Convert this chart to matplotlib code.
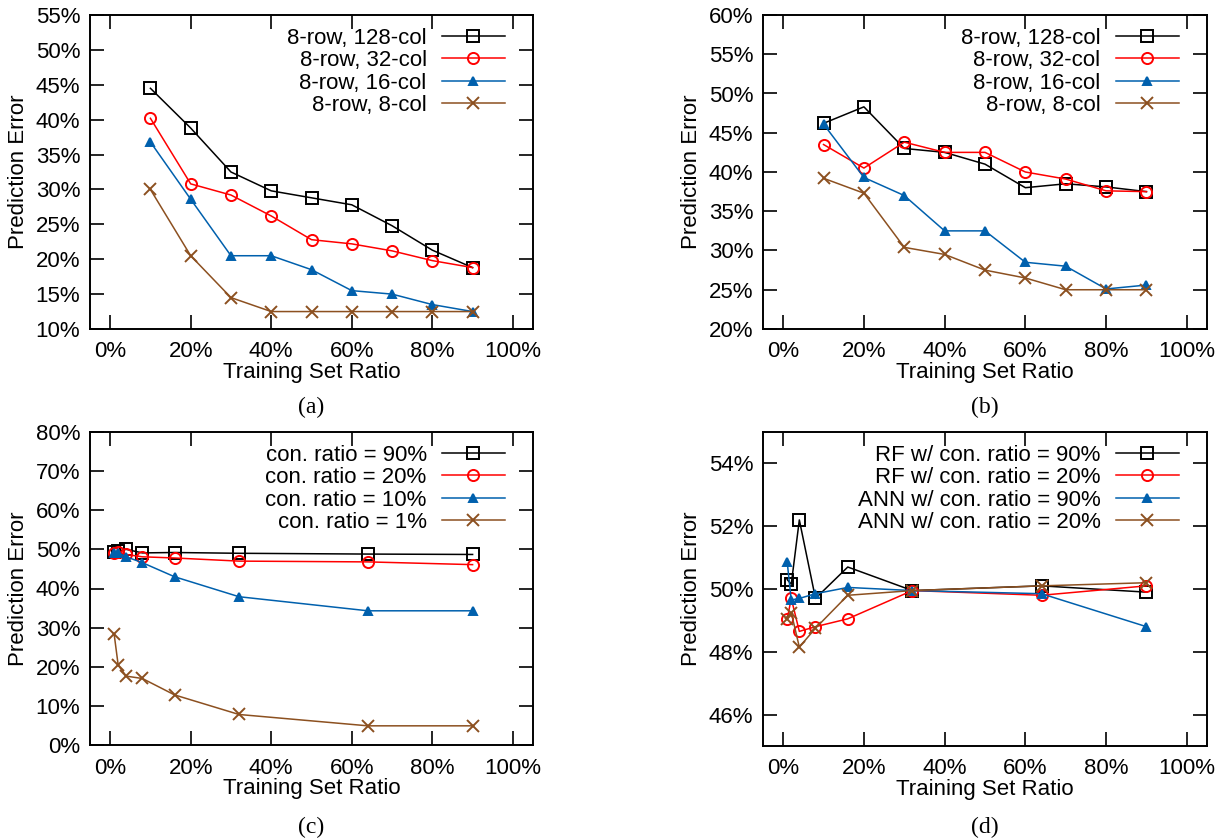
import matplotlib
matplotlib.use("Agg")
import matplotlib.pyplot as plt
from matplotlib.ticker import FuncFormatter, MultipleLocator

plt.rcParams['font.family'] = ['Liberation Sans', 'DejaVu Sans']

# (a) / (b): training set ratio 10..90%
x_ab = [10, 20, 30, 40, 50, 60, 70, 80, 90]
labels_ab = ["8-row, 128-col", "8-row, 32-col", "8-row, 16-col", "8-row, 8-col"]

a_128 = [44.5, 38.8, 32.5, 29.8, 28.8, 27.8, 24.8, 21.3, 18.8]
a_32 = [40.2, 30.8, 29.2, 26.2, 22.8, 22.2, 21.2, 19.8, 18.8]
a_16 = [36.8, 28.6, 20.5, 20.5, 18.5, 15.5, 15.0, 13.5, 12.5]
a_8 = [30.0, 20.5, 14.5, 12.5, 12.5, 12.5, 12.5, 12.5, 12.5]

b_128 = [46.2, 48.3, 43.0, 42.5, 41.0, 38.0, 38.5, 38.1, 37.5]
b_32 = [43.5, 40.5, 43.8, 42.5, 42.5, 40.0, 39.1, 37.6, 37.5]
b_16 = [46.1, 39.3, 37.0, 32.5, 32.5, 28.5, 28.0, 25.1, 25.6]
b_8 = [39.2, 37.3, 30.4, 29.5, 27.5, 26.5, 25.0, 25.0, 25.0]

# (c) / (d): training set ratio 1..90%
x_cd = [1, 2, 4, 8, 16, 32, 64, 90]
labels_c = ["con. ratio = 90%", "con. ratio = 20%", "con. ratio = 10%", "con. ratio = 1%"]
c_90 = [49.3, 49.6, 50.0, 49.1, 49.2, 49.0, 48.8, 48.7]
c_20 = [49.1, 49.4, 48.7, 48.1, 47.8, 47.0, 46.8, 46.1]
c_10 = [49.1, 49.1, 48.1, 46.6, 43.0, 37.9, 34.3, 34.3]
c_1 = [28.3, 20.4, 17.6, 17.0, 12.8, 7.8, 4.9, 4.9]

labels_d = ["RF w/ con. ratio = 90%", "RF w/ con. ratio = 20%",
            "ANN w/ con. ratio = 90%", "ANN w/ con. ratio = 20%"]
d_rf90 = [50.3, 50.15, 52.2, 49.7, 50.7, 49.95, 50.1, 49.9]
d_rf20 = [49.05, 49.7, 48.65, 48.8, 49.05, 49.95, 49.8, 50.1]
d_ann90 = [50.85, 49.65, 49.7, 49.85, 50.05, 49.95, 49.85, 48.8]
d_ann20 = [49.05, 49.25, 48.15, 48.75, 49.8, 49.95, 50.1, 50.2]

styles = [
    dict(color="black", marker="s", mfc="none", ms=8),
    dict(color="#ff0000", marker="o", mfc="none", ms=8),
    dict(color="#0060ad", marker="^", mfc="#0060ad", ms=6),
    dict(color="#8c5020", marker="x", ms=9),
]

pct = FuncFormatter(lambda v, p: "%d%%" % round(v))

fig = plt.figure(figsize=(12.25, 8.4), dpi=100)
W, H = 1225, 840
FS = 16


def panel(box, x, series, labels, ylim, ystep, caption, cap_y):
    l, t, r, b = box
    ax = fig.add_axes([l / W, 1 - b / H, (r - l) / W, (b - t) / H])
    for ys, lab, st in zip(series, labels, styles):
        ax.plot(x, ys, label=lab, lw=1.1, mew=1.4, **st)
    ax.set_xlim(-5, 105)
    ax.set_ylim(*ylim)
    ax.xaxis.set_major_locator(MultipleLocator(20))
    ax.yaxis.set_major_locator(MultipleLocator(ystep))
    ax.xaxis.set_major_formatter(pct)
    ax.yaxis.set_major_formatter(pct)
    ax.tick_params(direction="in", length=10, width=1.2, top=True, right=True,
                   labelsize=FS)
    ax.tick_params(axis="x", pad=9)
    ax.tick_params(axis="y", pad=7)
    for s in ax.spines.values():
        s.set_linewidth(1.4)
    ax.set_xlabel("Training Set Ratio", fontsize=FS, va="center")
    ax.set_ylabel("Prediction Error", fontsize=FS, va="center")
    ax.xaxis.set_label_coords(0.5, -0.14)
    ax.yaxis.set_label_coords(-0.162, 0.5)
    ax.legend(loc="upper right", bbox_to_anchor=(0.937, 0.96), frameon=False,
              markerfirst=False, fontsize=FS, handlelength=2.85,
              handletextpad=0.68, labelspacing=0.07, borderpad=0, borderaxespad=0)
    fig.text((l + r) / 2 / W, 1 - cap_y / H, caption, ha="center", va="center",
             fontsize=17, family="Liberation Serif")
    return ax


panel((90, 15, 533, 329), x_ab, [a_128, a_32, a_16, a_8], labels_ab, (10, 55), 5, "(a)", 407)
panel((763, 15, 1207, 329), x_ab, [b_128, b_32, b_16, b_8], labels_ab, (20, 60), 5, "(b)", 407)
panel((90, 432, 533, 745), x_cd, [c_90, c_20, c_10, c_1], labels_c, (0, 80), 10, "(c)", 827)
axd = panel((763, 432, 1207, 746), x_cd, [d_rf90, d_rf20, d_ann90, d_ann20], labels_d,
            (45, 55), 2, "(d)", 827)
axd.set_yticks([46, 48, 50, 52, 54])

fig.savefig("out.png", dpi=100)
